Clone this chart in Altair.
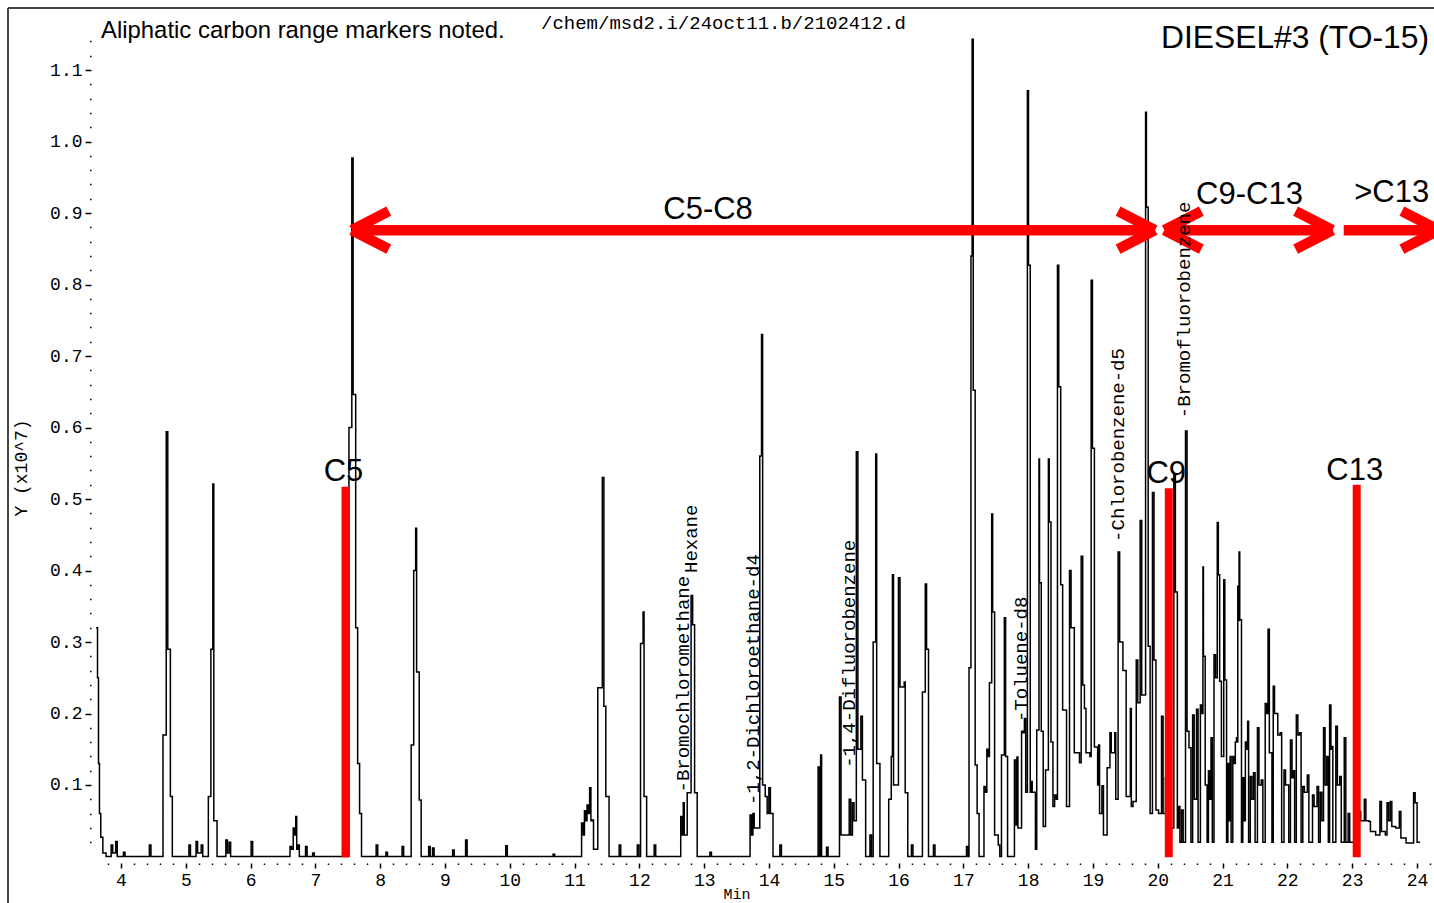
import altair as alt
import pandas as pd

# ---------------- data ----------------
# leading solvent tail at the very start of the run (min, signal x10^7)
start_t = [3.615, 3.63, 3.645, 3.66, 3.675, 3.70, 3.74, 3.80]
start_v = [0.32, 0.32, 0.25, 0.13, 0.06, 0.027, 0.005, 0.0]

# peaks 3.8 - 17 min: apex time, apex height, level after the peak
early_t = [3.86, 3.93, 4.05, 4.45, 4.66, 4.71, 4.75, 4.78, 5.06, 5.17, 5.25, 5.36, 5.39, 5.42, 5.47,
           5.63, 5.68, 6.02, 6.62, 6.67, 6.70, 6.74, 6.86, 6.97, 7.53, 7.57, 7.61, 7.64, 7.67, 7.70,
           7.95, 8.10, 8.35, 8.49, 8.52, 8.55, 8.59, 8.62, 8.76, 8.82, 9.13, 9.33, 9.95, 10.68,
           11.12, 11.16, 11.20, 11.24, 11.28, 11.37, 11.44, 11.47, 11.52, 11.70, 11.98, 12.03, 12.06,
           12.10, 12.24, 12.65, 12.68, 12.75, 12.81, 12.84, 12.88, 13.10, 13.72, 13.76, 13.87, 13.89,
           13.93, 13.96, 14.01, 14.05, 14.18, 14.77, 14.80, 14.90, 15.10, 15.25, 15.30, 15.36, 15.43,
           15.48, 15.57, 15.62, 15.65, 15.70, 15.86, 15.89, 15.91, 16.01, 16.06, 16.09, 16.13, 16.21,
           16.38, 16.42, 16.45, 16.55]
early_h = [0.016, 0.021, 0.006, 0.016, 0.17, 0.594, 0.29, 0.084, 0.016, 0.021, 0.016, 0.084, 0.29, 0.521, 0.05,
           0.023, 0.02, 0.021, 0.014, 0.04, 0.056, 0.016, 0.014, 0.005, 0.60, 0.977, 0.646, 0.32, 0.13, 0.06,
           0.016, 0.006, 0.014, 0.156, 0.40, 0.459, 0.258, 0.079, 0.014, 0.012, 0.009, 0.023, 0.015, 0.003,
           0.047, 0.064, 0.072, 0.096, 0.051, 0.236, 0.53, 0.21, 0.084, 0.016, 0.016, 0.298, 0.342,
           0.084, 0.016, 0.056, 0.075, 0.089, 0.365, 0.324, 0.089, 0.006, 0.058, 0.06, 0.56, 0.73,
           0.10, 0.084, 0.096, 0.06, 0.016, 0.125, 0.142, 0.013, 0.223, 0.08, 0.075, 0.566, 0.196,
           0.107, 0.03, 0.30, 0.563, 0.13, 0.08, 0.14, 0.394, 0.39, 0.237, 0.244, 0.089, 0.016,
           0.23, 0.381, 0.29, 0.016]
early_v = [0.005, 0.0, 0.0, 0.0, 0.17, 0.29, 0.084, 0.0, 0.0, 0.005, 0.0, 0.084, 0.29, 0.05, 0.0,
           0.005, 0.0, 0.0, 0.01, 0.03, 0.01, 0.0, 0.0, 0.0, 0.60, 0.646, 0.32, 0.13, 0.06, 0.0,
           0.0, 0.0, 0.0, 0.156, 0.40, 0.258, 0.079, 0.0, 0.0, 0.0, 0.0, 0.0, 0.0, 0.0,
           0.03, 0.05, 0.06, 0.05, 0.01, 0.236, 0.21, 0.084, 0.0, 0.0, 0.0, 0.298, 0.084,
           0.0, 0.0, 0.03, 0.03, 0.089, 0.324, 0.089, 0.0, 0.0, 0.03, 0.04, 0.56, 0.10,
           0.084, 0.06, 0.06, 0.0, 0.0, 0.0, 0.0, 0.0, 0.03, 0.03, 0.05, 0.15, 0.107,
           0.0, 0.0, 0.30, 0.13, 0.0, 0.08, 0.14, 0.10, 0.237, 0.237, 0.089, 0.0, 0.0,
           0.23, 0.29, 0.0, 0.0]

# peaks 17 - 20.5 min
mid_t = [17.06, 17.09, 17.12, 17.14, 17.17, 17.20, 17.23, 17.33, 17.37, 17.41, 17.44, 17.47, 17.55,
         17.60, 17.64, 17.67, 17.80, 17.83, 17.91, 17.95, 18.00, 18.02, 18.05, 18.10, 18.14, 18.17,
         18.19, 18.22, 18.28, 18.32, 18.34, 18.37, 18.42, 18.46, 18.49, 18.52, 18.58, 18.65, 18.70,
         18.78, 18.83, 18.88, 18.94, 18.98, 19.01, 19.06, 19.09, 19.15, 19.23, 19.27, 19.31, 19.34,
         19.40, 19.45, 19.50, 19.55, 19.58, 19.63, 19.68, 19.74, 19.78, 19.82, 19.84, 19.87, 19.93,
         19.96, 20.00, 20.07, 20.13, 20.21, 20.26, 20.29, 20.33, 20.38, 20.44]
mid_h = [0.014, 0.264, 0.84, 1.143, 0.652, 0.128, 0.06, 0.098, 0.15, 0.243, 0.479, 0.342, 0.016,
         0.142, 0.334, 0.14, 0.135, 0.139, 0.175, 0.193, 1.071, 0.827, 0.105, 0.09, 0.177, 0.556,
         0.383, 0.175, 0.121, 0.556, 0.468, 0.16, 0.086, 0.827, 0.657, 0.38, 0.205, 0.40, 0.32,
         0.145, 0.42, 0.207, 0.145, 0.806, 0.571, 0.153, 0.156, 0.099, 0.124, 0.173, 0.145, 0.173,
         0.426, 0.30, 0.26, 0.084, 0.207, 0.077, 0.275, 0.47, 0.226, 1.041, 0.908, 0.294, 0.509,
         0.275, 0.065, 0.196, 0.11, 0.04, 0.535, 0.37, 0.07, 0.065, 0.595]
mid_v = [0.0, 0.264, 0.84, 0.652, 0.128, 0.06, 0.0, 0.09, 0.14, 0.243, 0.342, 0.03, 0.0,
         0.142, 0.14, 0.0, 0.044, 0.04, 0.173, 0.09, 0.827, 0.09, 0.09, 0.01, 0.177, 0.383,
         0.175, 0.042, 0.121, 0.468, 0.16, 0.07, 0.08, 0.657, 0.38, 0.205, 0.07, 0.32, 0.145,
         0.131, 0.24, 0.145, 0.14, 0.571, 0.153, 0.10, 0.06, 0.03, 0.124, 0.145, 0.145, 0.08,
         0.30, 0.26, 0.084, 0.084, 0.07, 0.077, 0.215, 0.226, 0.226, 0.908, 0.294, 0.06, 0.275,
         0.065, 0.06, 0.06, 0.04, 0.04, 0.37, 0.04, 0.02, 0.02, 0.175]

# peaks 20.5 - 24 min
late_t = [20.47, 20.50, 20.55, 20.61, 20.67, 20.70, 20.72, 20.75, 20.79, 20.83, 20.88, 20.93, 20.95,
          20.97, 21.03, 21.05, 21.09, 21.12, 21.17, 21.20, 21.22, 21.24, 21.26, 21.28, 21.32, 21.36,
          21.39, 21.44, 21.49, 21.55, 21.61, 21.67, 21.71, 21.75, 21.79, 21.84, 21.90, 21.96, 22.01,
          22.06, 22.10, 22.15, 22.20, 22.25, 22.32, 22.40, 22.47, 22.52, 22.57, 22.62, 22.66, 22.69,
          22.76, 22.82, 22.89, 22.95, 23.04, 23.12, 23.20, 23.27, 23.35, 23.44, 23.50, 23.55, 23.60,
          23.66, 23.74, 23.82, 23.89, 23.96, 23.99]
late_h = [0.175, 0.152, 0.198, 0.206, 0.212, 0.405, 0.28, 0.10, 0.12, 0.166, 0.282, 0.467, 0.394,
          0.245, 0.387, 0.247, 0.13, 0.14, 0.14, 0.16, 0.166, 0.378, 0.426, 0.331, 0.11, 0.16,
          0.189, 0.112, 0.117, 0.18, 0.107, 0.214, 0.318, 0.145, 0.238, 0.20, 0.173, 0.121, 0.10,
          0.163, 0.12, 0.198, 0.173, 0.098, 0.114, 0.086, 0.098, 0.09, 0.18, 0.14, 0.212, 0.154,
          0.182, 0.112, 0.166, 0.06, 0.075, 0.063, 0.08, 0.049, 0.035, 0.077, 0.035, 0.075, 0.077,
          0.042, 0.063, 0.026, 0.019, 0.089, 0.075]
late_v = [0.152, 0.02, 0.08, 0.02, 0.2, 0.28, 0.10, 0.02, 0.08, 0.02, 0.25, 0.394, 0.245,
          0.14, 0.247, 0.02, 0.05, 0.02, 0.13, 0.16, 0.16, 0.33, 0.331, 0.02, 0.05, 0.15,
          0.02, 0.08, 0.02, 0.10, 0.02, 0.20, 0.145, 0.02, 0.20, 0.17, 0.02, 0.10, 0.02,
          0.11, 0.02, 0.17, 0.02, 0.09, 0.02, 0.07, 0.02, 0.05, 0.10, 0.02, 0.15, 0.02,
          0.10, 0.02, 0.02, 0.02, 0.05, 0.05, 0.05, 0.035, 0.03, 0.035, 0.03, 0.05, 0.042,
          0.04, 0.026, 0.019, 0.019, 0.075, 0.02]
end_t, end_v = 24.05, 0.02

# carbon range markers
marker_labels = ["C5", "C9", "C13"]
marker_t = [7.465, 20.17, 23.07]
marker_top = [0.517, 0.515, 0.52]
marker_label_t = [7.434, 20.13, 23.04]
marker_label_y = [0.525, 0.522, 0.527]

range_labels = ["C5-C8", "C9-C13", ">C13"]
range_start = [7.50, 20.04, 22.87]
range_end = [20.02, 22.76, 24.40]
range_left_head = [True, True, False]
range_label_t = [13.06, 21.415, 23.61]
range_label_y = [0.8916, 0.9126, 0.9158]
arrow_y = 0.876

# compound annotations (rotated)
cmp_names = ["-Bromochloromethane", "Hexane", "-1,2-Dichloroethane-d4", "-1,4-Difluorobenzene",
             "-Toluene-d8", "-Chlorobenzene-d5", "-Bromofluorobenzene"]
cmp_t = [12.666, 12.80, 13.75, 15.235, 17.89, 19.39, 20.40]
cmp_y = [0.0895, 0.3965, 0.072, 0.124, 0.188, 0.44, 0.613]

# axis tick positions (dotted axes of the original plot)
x_tick_values = [round(3.8 + 0.2 * i, 1) for i in range(103)]
y_tick_values = [round(0.02 * i, 2) for i in range(1, 58)]

# ---------------- build trace ----------------
T = early_t + mid_t + late_t
H = early_h + mid_h + late_h
V = early_v + mid_v + late_v
HW = 0.024
pt_t = list(start_t)
pt_y = list(start_v)
prev_v = start_v[-1]
n = len(T)
for i in range(n):
    t, h, v = T[i], H[i], V[i]
    left = t - HW
    if left > pt_t[-1] + 1e-9:
        pt_t.append(left)
        pt_y.append(prev_v)
    pt_t.append(t)
    pt_y.append(h)
    nxt = T[i + 1] if i + 1 < n else end_t
    right = t + HW
    if right >= nxt - 1e-9:
        right = (t + nxt) / 2
    pt_t.append(right)
    pt_y.append(v)
    prev_v = v
pt_t.append(end_t)
pt_y.append(end_v)
trace_df = pd.DataFrame({"t": pt_t, "y": pt_y})

# ---------------- scales / axes ----------------
PXX = 64.8   # px per minute
PXY = 715.0  # px per unit
x_scale = alt.Scale(domain=[3.537, 24.263], nice=False, zero=False)
y_scale = alt.Scale(domain=[-0.0091, 1.142], nice=False, zero=False)
W = 1343
Hh = 823

mono = "Liberation Mono"
sans = "Liberation Sans"

x_major = "abs(datum.value - round(datum.value)) < 0.001"
y_major = "abs(datum.value * 10 - round(datum.value * 10)) < 0.001"

x_axis = alt.Axis(
    values=x_tick_values, title=None, domain=False, grid=False,
    labelExpr=f"{x_major} ? format(datum.value, 'd') : ''",
    labelFont=mono, labelFontSize=18, labelColor="black", labelPadding=3,
    labelOverlap=False, labelFlush=False,
    tickColor="black", tickWidth=1.5,
    tickSize={"condition": {"test": x_major, "value": 5}, "value": 1.5},
)
y_axis = alt.Axis(
    values=y_tick_values, title=None, domain=False, grid=False,
    labelExpr=f"{y_major} ? format(datum.value, '.1f') : ''",
    labelFont=mono, labelFontSize=18, labelColor="black", labelPadding=3,
    labelOverlap=False, labelFlush=False,
    tickColor="black", tickWidth=1.5,
    tickSize={"condition": {"test": y_major, "value": 6}, "value": 1.5},
)


def X(f="t"):
    return alt.X(f"{f}:Q", scale=x_scale, axis=x_axis)


def Y(f="y"):
    return alt.Y(f"{f}:Q", scale=y_scale, axis=y_axis)


trace = alt.Chart(trace_df).mark_line(
    color="black", strokeWidth=1.5, interpolate="step"
).encode(x=X(), y=Y())

# markers
marker_df = pd.DataFrame({"t": marker_t, "y": [-0.001] * 3, "y2": marker_top})
bars = alt.Chart(marker_df).mark_rule(color="#ff0000", strokeWidth=8).encode(
    x=X(), y=Y(), y2="y2:Q")
mlab_df = pd.DataFrame({"t": marker_label_t, "y": marker_label_y, "lab": marker_labels})
mlabels = alt.Chart(mlab_df).mark_text(
    font=sans, fontSize=31, align="center", baseline="alphabetic", color="black"
).encode(x=X(), y=Y(), text="lab:N")

# arrows
ARM_DX = 37 / PXX
ARM_DY = 19 / PXY
TIP_IN = 4 / PXX
SHAFT_IN = 9 / PXX
rows = []
for s, e, lh in zip(range_start, range_end, range_left_head):
    rows.append(dict(t=s + (SHAFT_IN if lh else 0), t2=e - SHAFT_IN, y=arrow_y, y2=arrow_y))
    for sgn in (1, -1):
        rows.append(dict(t=e - TIP_IN, t2=e - TIP_IN - ARM_DX, y=arrow_y, y2=arrow_y + sgn * ARM_DY))
        if lh:
            rows.append(dict(t=s + TIP_IN, t2=s + TIP_IN + ARM_DX, y=arrow_y, y2=arrow_y + sgn * ARM_DY))
arrow_df = pd.DataFrame(rows)
arrows = alt.Chart(arrow_df).mark_rule(color="#ff0000", strokeWidth=10.5, strokeCap="butt").encode(
    x=X(), x2="t2:Q", y=Y(), y2="y2:Q")
rlab_df = pd.DataFrame({"t": range_label_t, "y": range_label_y, "lab": range_labels})
rlabels = alt.Chart(rlab_df).mark_text(
    font=sans, fontSize=31, align="center", baseline="alphabetic", color="black"
).encode(x=X(), y=Y(), text="lab:N")

# compound labels
cmp_df = pd.DataFrame({"t": cmp_t, "y": cmp_y, "lab": cmp_names})
cmps = alt.Chart(cmp_df).mark_text(
    font=mono, fontSize=19, angle=270, align="left", baseline="middle", color="black"
).encode(x=X(), y=Y(), text="lab:N")

# pixel-placed page furniture (relative to plot origin at 91, 40)
one = pd.DataFrame({"a": [0]})
OX, OY = 91, 40
frame_l = alt.Chart(one).mark_rule(color="#444444", strokeWidth=2).encode(
    x=alt.value(8 - OX), y=alt.value(8 - OY), y2=alt.value(903 - OY + 5))
frame_t = alt.Chart(one).mark_rule(color="#444444", strokeWidth=2).encode(
    x=alt.value(8 - OX), x2=alt.value(1434 - OX + 5), y=alt.value(8 - OY))
note = alt.Chart(one).mark_text(
    text="Aliphatic carbon range markers noted.", font=sans, fontSize=23.9,
    align="left", baseline="alphabetic", color="black"
).encode(x=alt.value(101 - OX), y=alt.value(38 - OY))
path = alt.Chart(one).mark_text(
    text="/chem/msd2.i/24oct11.b/2102412.d", font=mono, fontSize=19,
    align="left", baseline="alphabetic", color="black"
).encode(x=alt.value(541 - OX), y=alt.value(29 - OY))
title = alt.Chart(one).mark_text(
    text="DIESEL#3 (TO-15)", font=sans, fontSize=31.8,
    align="right", baseline="alphabetic", color="black"
).encode(x=alt.value(1429 - OX), y=alt.value(48 - OY))
ytitle = alt.Chart(one).mark_text(
    text="Y (x10^7)", font=mono, fontSize=18, angle=270,
    align="center", baseline="middle", color="black"
).encode(x=alt.value(22 - OX), y=alt.value(468 - OY))
xtitle = alt.Chart(one).mark_text(
    text="Min", font=mono, fontSize=15,
    align="center", baseline="alphabetic", color="black"
).encode(x=alt.value(737 - OX), y=alt.value(899 - OY))

chart = alt.layer(
    trace, bars, arrows, mlabels, rlabels, cmps,
    frame_l, frame_t, note, path, title, ytitle, xtitle
).properties(
    width=W, height=Hh,
    padding={"left": OX, "top": OY, "right": 0, "bottom": 903 - OY - Hh},
    autosize=alt.AutoSizeParams(type="none"),
    background="white",
).configure_view(stroke=None)

chart.save("out.html", embed_options={"renderer": "svg", "actions": False})
